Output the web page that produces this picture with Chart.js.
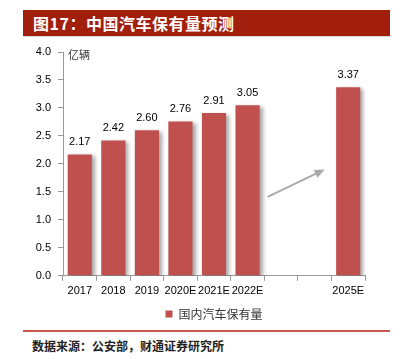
<!DOCTYPE html>
<html>
<head>
<meta charset="utf-8">
<script src="https://cdn.jsdelivr.net/npm/chart.js@4"></script>
<style>
    html, body { margin: 0; padding: 0; background: #fff; }
    body { width: 403px; height: 359px; position: relative; overflow: hidden; }
    #title {
        position: absolute; left: 23px; top: 10px; width: 367px; height: 27px;
        background: #a21e0d; border-bottom: 1px solid #d8d8d8;
        color: #fff; font: bold 16px "Noto Sans CJK SC", sans-serif;
        line-height: 27px; padding-left: 10px; box-sizing: border-box; letter-spacing: 0.5px;
    }
    #chartBox { position: absolute; left: 0; top: 0; width: 403px; height: 330px; }
    #footLine { position: absolute; left: 23px; top: 330px; width: 367px; height: 2px; background: #c8574f; }
    #source {
        position: absolute; left: 32px; top: 337px;
        font: bold 12px "Noto Sans CJK SC", sans-serif; color: #222;
    }
</style>
</head>
<body>
<div id="title">图17：中国汽车保有量预测</div>
<div id="chartBox"><canvas id="carChart"></canvas></div>
<div id="footLine"></div>
<div id="source">数据来源：公安部，财通证券研究所</div>
<script>
// Data
const years = ['2017', '2018', '2019', '2020E', '2021E', '2022E', '', '', '2025E'];
const carStock = [2.17, 2.42, 2.60, 2.76, 2.91, 3.05, null, null, 3.37];
const yTicks = [0, 0.5, 1.0, 1.5, 2.0, 2.5, 3.0, 3.5, 4.0];
// arrow annotation, in (category index, value) units
const arrowFrom = [5.6, 1.41];
const arrowTo = [7.3, 1.9];

const barColor = '#c0504d';
const numFont = '"Liberation Sans", Arial, sans-serif';

// shadow behind the bars
const barShadow = {
    id: 'barShadow',
    beforeDatasetDraw(chart) {
        const ctx = chart.ctx;
        ctx.save();
        ctx.shadowColor = 'rgba(0,0,0,0.35)';
        ctx.shadowBlur = 4;
        ctx.shadowOffsetX = 3;
        ctx.shadowOffsetY = 2;
    },
    afterDatasetDraw(chart) {
        chart.ctx.restore();
    }
};

// value labels, unit text and arrow
const extras = {
    id: 'extras',
    afterDatasetsDraw(chart) {
        const ctx = chart.ctx;
        const meta = chart.getDatasetMeta(0);
        ctx.save();
        ctx.fillStyle = '#000';
        ctx.font = '11px ' + numFont;
        ctx.textAlign = 'center';
        ctx.textBaseline = 'bottom';
        meta.data.forEach((bar, i) => {
            const v = carStock[i];
            if (v == null) return;
            ctx.fillText(v.toFixed(2), bar.x, bar.y - 7);
        });

        const area = chart.chartArea;
        ctx.textAlign = 'left';
        ctx.textBaseline = 'middle';
        ctx.fillStyle = '#333';
        ctx.font = '11px "Noto Sans CJK SC", sans-serif';
        ctx.fillText('亿辆', area.left + 5, area.top + 3);

        const xs = chart.scales.x, ys = chart.scales.y;
        const x1 = xs.getPixelForValue(arrowFrom[0]), y1 = ys.getPixelForValue(arrowFrom[1]);
        const x2 = xs.getPixelForValue(arrowTo[0]), y2 = ys.getPixelForValue(arrowTo[1]);
        const ang = Math.atan2(y2 - y1, x2 - x1);
        ctx.strokeStyle = '#aaaaaa';
        ctx.fillStyle = '#aaaaaa';
        ctx.lineWidth = 2;
        ctx.beginPath();
        ctx.moveTo(x1, y1);
        ctx.lineTo(x2 - 8 * Math.cos(ang), y2 - 8 * Math.sin(ang));
        ctx.stroke();
        ctx.beginPath();
        ctx.moveTo(x2, y2);
        ctx.lineTo(x2 - 11 * Math.cos(ang - 0.4), y2 - 11 * Math.sin(ang - 0.4));
        ctx.lineTo(x2 - 11 * Math.cos(ang + 0.4), y2 - 11 * Math.sin(ang + 0.4));
        ctx.closePath();
        ctx.fill();
        ctx.restore();
    }
};

new Chart(document.getElementById('carChart'), {
    type: 'bar',
    data: {
        labels: years,
        datasets: [{
            label: '国内汽车保有量',
            data: carStock,
            backgroundColor: barColor,
            borderWidth: 0,
            barPercentage: 0.72,
            categoryPercentage: 1.0
        }]
    },
    options: {
        responsive: true,
        maintainAspectRatio: false,
        animation: false,
        layout: { padding: { left: 0, right: 38, top: 52, bottom: 0 } },
        plugins: {
            tooltip: { enabled: false },
            legend: {
                position: 'bottom',
                fullSize: false,
                labels: {
                    color: '#333',
                    boxWidth: 7,
                    boxHeight: 7,
                    padding: 6,
                    font: { size: 12, family: '"Noto Sans CJK SC", sans-serif' }
                }
            }
        },
        scales: {
            y: {
                min: 0,
                max: 4,
                afterFit: (s) => { s.width = 63; },
                afterBuildTicks: (s) => { s.ticks = yTicks.map(v => ({ value: v })); },
                border: { color: '#999' },
                grid: { drawOnChartArea: false, drawTicks: true, tickLength: 5, color: '#999' },
                ticks: {
                    color: '#000',
                    padding: 7,
                    font: { size: 11, family: numFont },
                    callback: (v) => Number(v).toFixed(1)
                }
            },
            x: {
                border: { color: '#999' },
                grid: { drawOnChartArea: false, drawTicks: true, tickLength: 5, color: '#999' },
                ticks: {
                    color: '#000',
                    padding: 4,
                    maxRotation: 0,
                    autoSkip: false,
                    font: { size: 11, family: numFont }
                }
            }
        }
    },
    plugins: [barShadow, extras]
});
</script>
</body>
</html>
